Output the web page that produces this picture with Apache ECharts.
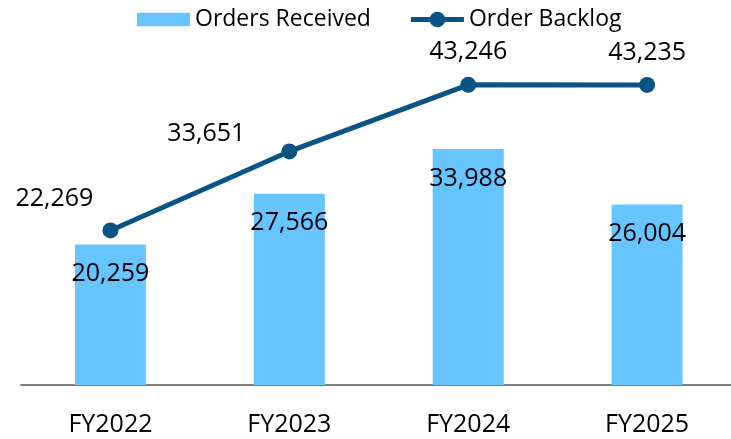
<!DOCTYPE html>
<html>
<head>
<meta charset="utf-8">
<script src="https://cdn.jsdelivr.net/npm/echarts@6/dist/echarts.min.js"></script>
<style>
  html, body { margin: 0; padding: 0; background: #fff; }
  #chart { width: 731px; height: 439px; }
</style>
</head>
<body>
<div id="chart"></div>
<script>
const categories = ['FY2022', 'FY2023', 'FY2024', 'FY2025']
const ordersReceived = [20259, 27566, 33988, 26004]
const orderBacklog = [22269, 33651, 43246, 43235]
// per-point nudges for backlog labels (first two sit up-left of the point)
const backlogLabelOffsets = [[-56, 1], [-83, 15], [0, 0], [0, 0]]

const FONT = '"Open Sans", "Noto Sans", sans-serif'
const BAR_COLOR = '#66c4ff'
const LINE_COLOR = '#0a5485'

// legend glyph for the line: thick stroke with a dot in the middle
const LINE_ICON = 'path://M0,5.5H54V10.5H0Z M19,8A8,8 0 1,1 35,8A8,8 0 1,1 19,8Z'

const chart = echarts.init(document.getElementById('chart'), null, { renderer: 'canvas' })

const fmt = v => v.toLocaleString('en-US')

chart.setOption({
  animation: false,
  textStyle: { fontFamily: FONT },
  legend: {
    top: 3,
    left: 132,
    itemGap: 40,
    itemWidth: 53,
    itemHeight: 16,
    textStyle: { fontSize: 23, color: '#000', fontFamily: FONT },
    data: [
      { name: 'Orders Received', icon: 'path://M0,1H54V15H0Z' },
      { name: 'Order Backlog', icon: LINE_ICON }
    ]
  },
  grid: {
    left: 21,
    right: 0,
    top: 38,
    bottom: 54,
    containLabel: false
  },
  // value axis so the category spacing can run past the right edge like the original
  xAxis: {
    type: 'value',
    min: -0.5,
    max: 3.469,
    splitLine: { show: false },
    axisTick: { show: false },
    axisLine: { onZero: false, lineStyle: { color: '#7f7f7f', width: 2 } },
    axisLabel: {
      customValues: [0, 1, 2, 3],
      formatter: v => categories[v] || '',
      fontSize: 25,
      color: '#000',
      margin: 27,
      fontFamily: FONT
    }
  },
  yAxis: {
    type: 'value',
    min: 0,
    max: 50000,
    show: false,
    splitLine: { show: false }
  },
  series: [
    {
      name: 'Orders Received',
      type: 'bar',
      data: ordersReceived.map((v, i) => [i, v]),
      barWidth: 71,
      itemStyle: { color: BAR_COLOR },
      label: {
        show: true,
        position: 'insideTop',
        distance: 17,
        fontSize: 25,
        color: '#000',
        fontFamily: FONT,
        formatter: p => fmt(p.value[1])
      }
    },
    {
      name: 'Order Backlog',
      type: 'line',
      data: orderBacklog.map((v, i) => ({
        value: [i, v],
        label: { offset: backlogLabelOffsets[i] }
      })),
      symbol: 'circle',
      symbolSize: 16,
      lineStyle: { color: LINE_COLOR, width: 5 },
      itemStyle: { color: LINE_COLOR },
      label: {
        show: true,
        position: 'top',
        distance: 12,
        fontSize: 25,
        color: '#000',
        fontFamily: FONT,
        formatter: p => fmt(p.value[1])
      }
    }
  ]
})
</script>
</body>
</html>
